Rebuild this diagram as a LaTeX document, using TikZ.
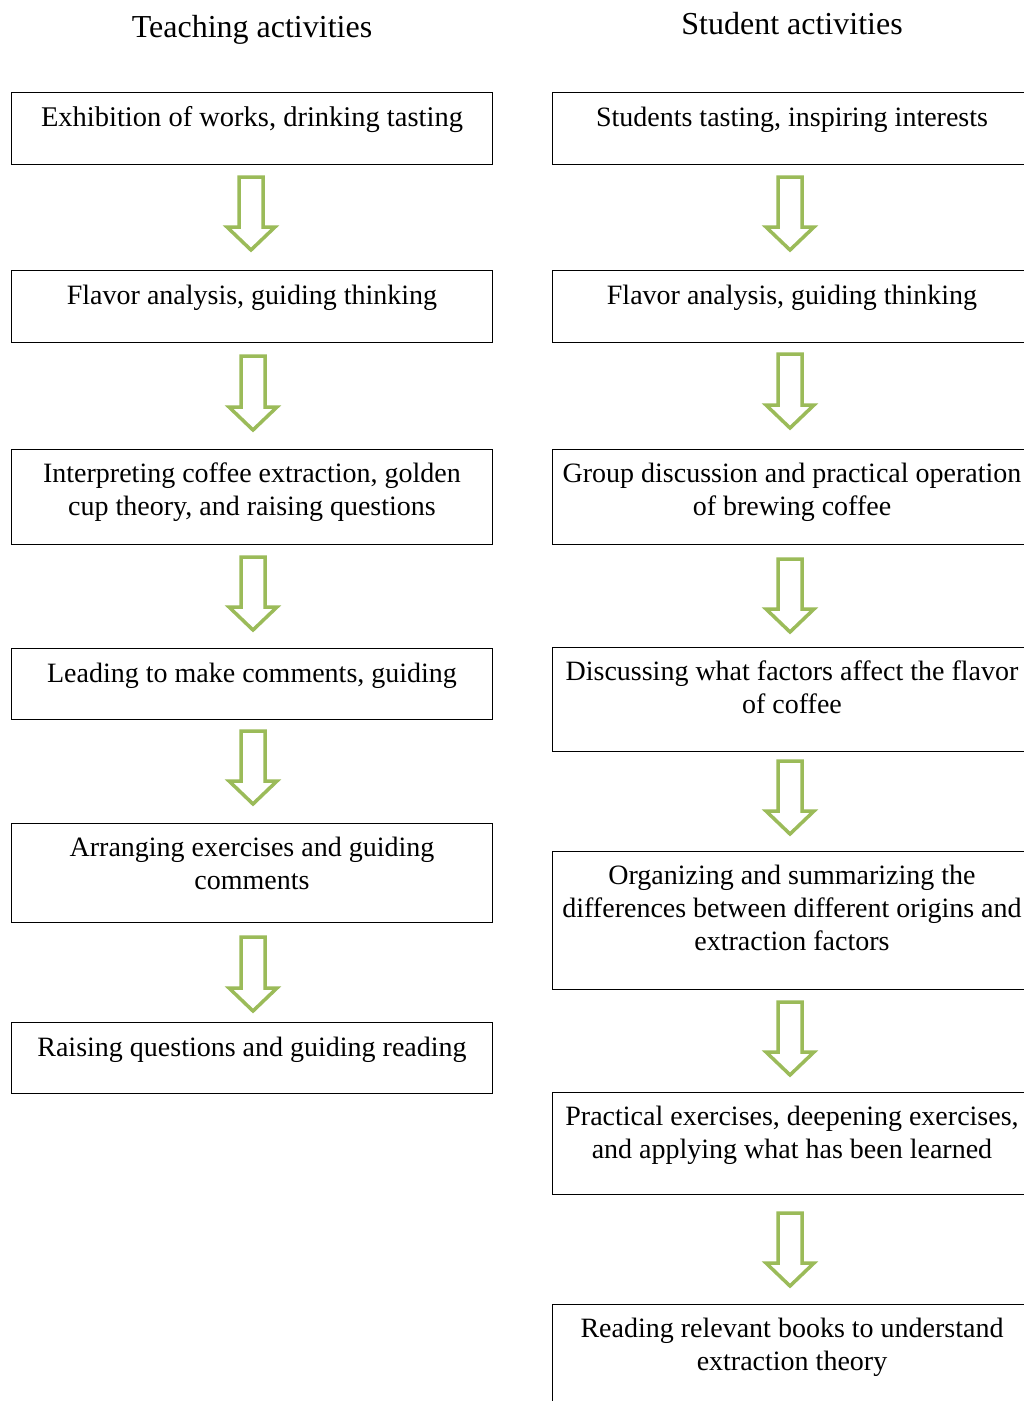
\documentclass[tikz,border=0pt]{standalone}
\usepackage{fontspec}
\setmainfont{Liberation Serif}
\definecolor{arrowgreen}{HTML}{9BBB59}
\tikzset{
  x=1pt, y=-1pt,
  box/.style={draw=black, line width=1.2pt, fill=white, inner sep=0pt, anchor=north west},
  txt/.style={inner sep=0pt, align=center, anchor=base, font=\fontsize{28}{33}\selectfont},
  head/.style={inner sep=0pt, anchor=base, font=\fontsize{32}{36}\selectfont},
  blockarrow/.style={draw=arrowgreen, line width=3.5pt, fill=white, line join=miter}
}
% #1 x centre, #2 top y, #3 tip y
\newcommand\greenarrow[3]{%
  \draw[blockarrow] (#1-12,#2) -- (#1+12,#2) -- (#1+12,#3-23) -- (#1+24,#3-23)
    -- (#1,#3) -- (#1-24,#3-23) -- (#1-12,#3-23) -- cycle;}
\begin{document}
\begin{tikzpicture}
\useasboundingbox (0,0) rectangle (1024,1401);
\clip (0,0) rectangle (1024,1401);
\fill[white] (0,0) rectangle (1024,1401);

\node[head] (hT) at (252,37) {Teaching activities};
\node[head] (hS) at (792,34) {Student activities};

% left column
\node[box, minimum width=481, minimum height=72] (L1) at (11,92) {};
\node[txt, font=\fontsize{28.5}{33}\selectfont] (tL1) at (252,126) {Exhibition of works, drinking tasting};
\node[box, minimum width=481, minimum height=72] (L2) at (11,270) {};
\node[txt] (tL2) at (252,304) {Flavor analysis, guiding thinking};
\node[box, minimum width=481, minimum height=95] (L3) at (11,449) {};
\node[txt] (tL3) at (252,515) {Interpreting coffee extraction, golden\\cup theory, and raising questions};
\node[box, minimum width=481, minimum height=71] (L4) at (11,648) {};
\node[txt] (tL4) at (252,682) {Leading to make comments, guiding};
\node[box, minimum width=481, minimum height=99] (L5) at (11,823) {};
\node[txt] (tL5) at (252,889) {Arranging exercises and guiding\\comments};
\node[box, minimum width=481, minimum height=71] (L6) at (11,1022) {};
\node[txt] (tL6) at (252,1056) {Raising questions and guiding reading};

% right column
\node[box, minimum width=490, minimum height=72] (R1) at (552,92) {};
\node[txt] (tR1) at (792,126) {Students tasting, inspiring interests};
\node[box, minimum width=490, minimum height=72] (R2) at (552,270) {};
\node[txt] (tR2) at (792,304) {Flavor analysis, guiding thinking};
\node[box, minimum width=490, minimum height=95] (R3) at (552,449) {};
\node[txt] (tR3) at (792,515) {Group discussion and practical operation\\of brewing coffee};
\node[box, minimum width=490, minimum height=104] (R4) at (552,647) {};
\node[txt] (tR4) at (792,713) {Discussing what factors affect the flavor\\of coffee};
\node[box, minimum width=490, minimum height=138] (R5) at (552,851) {};
\node[txt] (tR5) at (792,950) {Organizing and summarizing the\\differences between different origins and\\extraction factors};
\node[box, minimum width=490, minimum height=102] (R6) at (552,1092) {};
\node[txt] (tR6) at (792,1158) {Practical exercises, deepening exercises,\\and applying what has been learned};
\node[box, minimum width=490, minimum height=130] (R7) at (552,1304) {};
\node[txt] (tR7) at (792,1370) {Reading relevant books to understand\\extraction theory};

% arrows
\greenarrow{251}{177}{250}
\greenarrow{253}{356}{430}
\greenarrow{253}{557}{630}
\greenarrow{253}{731}{804}
\greenarrow{253}{937}{1011}
\greenarrow{790}{177}{250}
\greenarrow{790}{354}{428}
\greenarrow{790}{559}{632}
\greenarrow{790}{761}{834}
\greenarrow{790}{1002}{1075}
\greenarrow{790}{1213}{1286}
\end{tikzpicture}
\end{document}
